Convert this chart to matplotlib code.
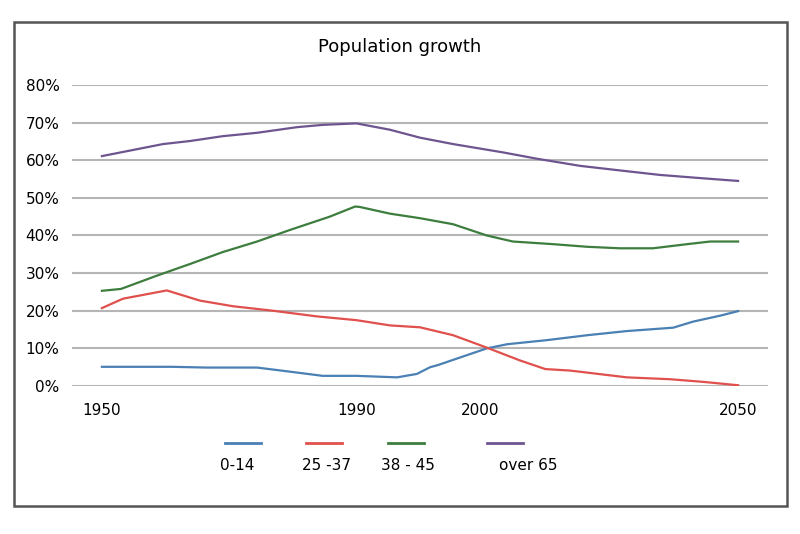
import matplotlib.pyplot as plt
from matplotlib.lines import Line2D
from matplotlib.patches import Rectangle

# series (x in years, y in %)
years_kids = [1950, 1961, 1966.5, 1974.4, 1979.6, 1984.7, 1990, 1996.4, 1999.5, 2001.6,
              2002.7, 2010.5, 2013.7, 2020, 2026.3, 2032.5, 2039.8, 2042.9, 2047.2, 2050]
kids = [5.1, 5.1, 4.9, 4.9, 3.8, 2.7, 2.7, 2.3, 3.2, 5.0,
        5.5, 10.0, 11.1, 12.2, 13.5, 14.6, 15.5, 17.1, 18.7, 19.9]

years_young = [1950, 1953.3, 1960.2, 1965.4, 1970.6, 1976.9, 1983.8, 1990, 1995.3, 2000,
               2005.2, 2010.5, 2015.7, 2019.7, 2023.6, 2032.5, 2039.3, 2044.5, 2050]
young = [20.7, 23.2, 25.4, 22.7, 21.2, 20.0, 18.5, 17.5, 16.1, 15.6,
         13.5, 10.2, 6.8, 4.5, 4.1, 2.3, 1.8, 1.1, 0.2]

years_mid = [1950, 1953, 1958.6, 1963.8, 1969, 1974.4, 1979.6, 1985.8, 1989.8, 1990.5,
             1995.3, 2000, 2005.2, 2010.5, 2014.6, 2020.9, 2026.3, 2031.4, 2036.6,
             2042, 2045.6, 2050]
mid = [25.3, 25.8, 29.3, 32.4, 35.6, 38.4, 41.5, 45.0, 47.7, 47.6,
       45.8, 44.6, 43.0, 40.0, 38.4, 37.7, 37.0, 36.6, 36.6,
       37.7, 38.4, 38.4]

years_old = [1950, 1959.6, 1963.8, 1969, 1974.4, 1980.7, 1984.7, 1990, 1995.3, 2000,
             2005.2, 2013, 2018.4, 2025.2, 2031.4, 2037.7, 2044.5, 2050]
old = [61.1, 64.3, 65.1, 66.4, 67.3, 68.8, 69.4, 69.8, 68.1, 66.0,
       64.3, 62.1, 60.4, 58.5, 57.3, 56.1, 55.2, 54.5]

labels = ['0-14', '25 -37', '38 - 45', 'over 65']
colors = ['#4a80b4', '#e0504c', '#3d7d3d', '#6e5590']

yticks = [0, 10, 20, 30, 40, 50, 60, 70, 80]
xtick_pos = [1950, 1990, 2009.5, 2050]
xtick_labels = ['1950', '1990', '2000', '2050']

fig = plt.figure(figsize=(8, 5.34), dpi=100)
fig.patches.append(Rectangle((14 / 800, 1 - 506 / 534), 773 / 800, 484 / 534,
                             transform=fig.transFigure, fill=False,
                             edgecolor='#555555', linewidth=1.8))

ax = fig.add_axes([72 / 800, 148 / 534, 696 / 800, 301 / 534])

series = [(years_kids, kids), (years_young, young), (years_mid, mid), (years_old, old)]
for (x, y), c in zip(series, colors):
    ax.plot(x, y, color=c, linewidth=1.6)

ax.set_xlim(1945.3, 2054.7)
ax.set_ylim(0, 80)
ax.set_yticks(yticks)
ax.set_yticklabels([f'{v}%' for v in yticks], fontsize=11)
ax.set_xticks(xtick_pos)
ax.set_xticklabels(xtick_labels, fontsize=11)
ax.tick_params(axis='both', length=0)
ax.tick_params(axis='y', pad=9)
ax.tick_params(axis='x', pad=12)
ax.grid(axis='y', color='#b5b5b5', linewidth=1.5)
ax.set_axisbelow(True)
for s in ax.spines.values():
    s.set_visible(False)

fig.text(0.5, 1 - 47 / 534, 'Population growth', ha='center', va='center', fontsize=13)

# legend: short line above each label
handle_x = [243, 324, 406, 505]
label_x = [237, 326, 408, 528]
for hx, lx, lab, c in zip(handle_x, label_x, labels, colors):
    fig.add_artist(Line2D([(hx - 18) / 800, (hx + 18) / 800], [1 - 443 / 534] * 2,
                          transform=fig.transFigure, color=c, linewidth=2))
    fig.text(lx / 800, 1 - 465 / 534, lab, ha='center', va='center', fontsize=11)

fig.savefig('out.png', dpi=100)
